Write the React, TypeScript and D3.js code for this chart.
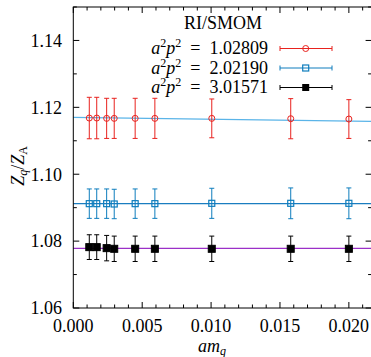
import React from 'react';
import * as d3 from 'd3';

// quark masses (am_q)
const masses = [0.00116, 0.0017, 0.00242, 0.00297, 0.00449, 0.00592, 0.01005, 0.01578, 0.02];

const redVals = [1.1168, 1.1168, 1.1167, 1.1167, 1.1167, 1.1167, 1.1167, 1.1166, 1.1165];
const redErr = [0.0062, 0.0062, 0.006, 0.006, 0.006, 0.006, 0.0058, 0.006, 0.0058];
const blueVals = [1.0912, 1.0912, 1.0912, 1.0911, 1.0912, 1.0912, 1.0913, 1.0913, 1.0913];
const blueErr = [0.0044, 0.0044, 0.0044, 0.0044, 0.0044, 0.0044, 0.0045, 0.0046, 0.0046];
const blackVals = [1.0782, 1.0782, 1.0779, 1.0777, 1.0777, 1.0777, 1.0777, 1.0777, 1.0777];
const blackErr = [0.0037, 0.0037, 0.0038, 0.0038, 0.0038, 0.0038, 0.0038, 0.0038, 0.0038];

// linear fits [intercept, slope]
const redFit = [1.117, -0.056];
const blueFit = [1.0912, 0];
const blackFit = [1.0778, 0];

const labels = ['1.02809', '2.02190', '3.01571'];
const xTicks = [0, 0.005, 0.01, 0.015, 0.02];
const yTicks = [1.06, 1.08, 1.1, 1.12, 1.14];

const W = 371, H = 357;
const L = 73.3, R = 371.6, T = 7, B = 308;
const FAM = 'Times New Roman, Liberation Serif, serif';

const x = d3.scaleLinear().domain([0, 0.02165]).range([L, R]);
const y = d3.scaleLinear().domain([1.06, 1.15]).range([B, T]);

const series = [
  { vals: redVals, err: redErr, color: '#e8221e', marker: 'circle', fit: redFit, fitColor: '#5ab4e8' },
  { vals: blueVals, err: blueErr, color: '#0e7dbd', marker: 'square', fit: blueFit, fitColor: '#1a7dc0' },
  { vals: blackVals, err: blackErr, color: '#000000', marker: 'filled', fit: blackFit, fitColor: '#9b30c8' },
];

const Marker = ({ cx, cy, kind, color }: any) => {
  if (kind === 'circle') return <circle cx={cx} cy={cy} r={3} fill="none" stroke={color} strokeWidth={1} />;
  if (kind === 'square') return <rect x={cx - 3} y={cy - 3} width={6} height={6} fill="none" stroke={color} strokeWidth={1.2} />;
  return <rect x={cx - 3.5} y={cy - 3.5} width={7} height={7} fill={color} />;
};

export default function App() {
  const minorX = d3.range(0, 0.0216, 0.001);
  const minorY = d3.range(1.06, 1.151, 0.01);
  return (
    <svg width={W} height={H} style={{ display: 'block', position: 'absolute', left: 0, top: 0 }}>
      <rect width={W} height={H} fill="white" />
      <defs>
        <clipPath id="plot"><rect x={L} y={T} width={R - L} height={B - T} /></clipPath>
      </defs>
      {/* fit lines */}
      <g clipPath="url(#plot)">
        {series.map((s, i) => (
          <line key={i} x1={x(0) - 2} x2={R} y1={y(s.fit[0] + s.fit[1] * x.invert(x(0) - 2))}
            y2={y(s.fit[0] + s.fit[1] * x.invert(R))} stroke={s.fitColor} strokeWidth={1.2} />
        ))}
      </g>
      {/* data with error bars */}
      {series.map((s, i) => (
        <g key={i}>
          {masses.map((m, j) => {
            const cx = x(m);
            const yt = y(s.vals[j] + s.err[j]);
            const yb = y(s.vals[j] - s.err[j]);
            return (
              <g key={j} stroke={s.color} strokeWidth={1}>
                <line x1={cx} x2={cx} y1={yt} y2={yb} />
                <line x1={cx - 2.5} x2={cx + 2.5} y1={yt} y2={yt} />
                <line x1={cx - 2.5} x2={cx + 2.5} y1={yb} y2={yb} />
                <Marker cx={cx} cy={y(s.vals[j])} kind={s.marker} color={s.color} />
              </g>
            );
          })}
        </g>
      ))}
      {/* frame */}
      <rect x={L} y={T} width={R - L} height={B - T} fill="none" stroke="black" strokeWidth={1} />
      {/* ticks */}
      <g stroke="black" strokeWidth={1}>
        {minorX.map((t, i) => {
          const major = i % 5 === 0;
          const len = major ? 6 : 3.5;
          return (
            <g key={i}>
              <line x1={x(t)} x2={x(t)} y1={B} y2={B - len} />
              <line x1={x(t)} x2={x(t)} y1={T} y2={T + len} />
            </g>
          );
        })}
        {minorY.map((t, i) => {
          const major = i % 2 === 0;
          const len = major ? 6 : 3.5;
          return (
            <g key={i}>
              <line x1={L} x2={L + len} y1={y(t)} y2={y(t)} />
              <line x1={R} x2={R - len} y1={y(t)} y2={y(t)} />
            </g>
          );
        })}
      </g>
      <g fontFamily={FAM} fontSize={18} fill="black">
        {yTicks.map((t, i) => (
          <text key={i} x={62} y={y(t)} dy="0.35em" textAnchor="end">{d3.format('.2f')(t)}</text>
        ))}
        {xTicks.map((t, i) => (
          <text key={i} x={x(t)} y={332} textAnchor="middle">{d3.format('.3f')(t)}</text>
        ))}
        <text x={212} y={352} textAnchor="middle">
          <tspan fontStyle="italic">am</tspan>
          <tspan fontStyle="italic" fontSize={12} dy={3}>q</tspan>
        </text>
        <text transform="translate(23.5,166) rotate(-90)" textAnchor="middle">
          <tspan fontStyle="italic">Z</tspan>
          <tspan fontStyle="italic" fontSize={12} dy={3}>q</tspan>
          <tspan dy={-3}>/</tspan>
          <tspan fontStyle="italic">Z</tspan>
          <tspan fontSize={12} dy={3}>A</tspan>
        </text>
        {/* legend */}
        <text x={223} y={29} textAnchor="middle">RI/SMOM</text>
        {series.map((s, i) => {
          const ly = 54 + i * 19.5;
          const my = ly - 5.5;
          return (
            <g key={i}>
              <text x={268} y={ly} textAnchor="end">
                <tspan fontStyle="italic">a</tspan>
                <tspan fontSize={12} dy={-7}>2</tspan>
                <tspan fontStyle="italic" dy={7}>p</tspan>
                <tspan fontSize={12} dy={-7}>2</tspan>
                <tspan dy={7}>{'\u2002=\u2002' + labels[i]}</tspan>
              </text>
              <g stroke={s.color} strokeWidth={1}>
                <line x1={280} x2={332} y1={my} y2={my} />
                <line x1={280} x2={280} y1={my - 2.5} y2={my + 2.5} />
                <line x1={332} x2={332} y1={my - 2.5} y2={my + 2.5} />
              </g>
              <Marker cx={305.7} cy={my} kind={s.marker} color={s.color} />
            </g>
          );
        })}
      </g>
    </svg>
  );
}
